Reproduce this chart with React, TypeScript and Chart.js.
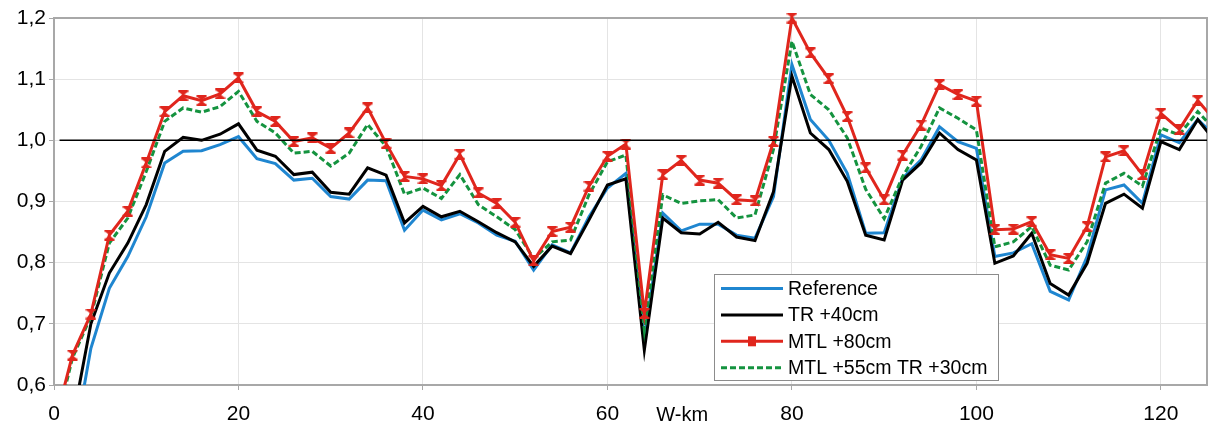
import React, { useEffect, useRef } from 'react';
import { Chart, registerables } from 'chart.js';
Chart.register(...registerables);

const FONT = '"Liberation Sans", Arial, sans-serif';

const km = [0, 2, 4, 6, 8, 10, 12, 14, 16, 18, 20, 22, 24, 26, 28, 30, 32, 34, 36, 38, 40, 42, 44, 46, 48, 50, 52, 54, 56, 58, 60, 62, 64, 66, 68, 70, 72, 74, 76, 78, 80, 82, 84, 86, 88, 90, 92, 94, 96, 98, 100, 102, 104, 106, 108, 110, 112, 114, 116, 118, 120, 122, 124, 126];

const reference = [0.40, 0.49, 0.66, 0.758, 0.81, 0.875, 0.963, 0.982, 0.983, 0.993, 1.006, 0.97, 0.962, 0.935, 0.938, 0.908, 0.904, 0.935, 0.934, 0.853, 0.886, 0.87, 0.88, 0.865, 0.845, 0.835, 0.788, 0.829, 0.816, 0.875, 0.922, 0.946, 0.675, 0.881, 0.852, 0.863, 0.863, 0.845, 0.84, 0.908, 1.124, 1.034, 1.0, 0.946, 0.848, 0.849, 0.938, 0.968, 1.022, 0.998, 0.987, 0.81, 0.816, 0.831, 0.753, 0.739, 0.81, 0.919, 0.927, 0.897, 1.009, 0.996, 1.034, 1.005];

const tr40 = [0.46, 0.54, 0.70, 0.783, 0.832, 0.895, 0.982, 1.005, 1.0, 1.01, 1.027, 0.984, 0.974, 0.944, 0.948, 0.915, 0.912, 0.955, 0.943, 0.865, 0.892, 0.875, 0.884, 0.867, 0.849, 0.834, 0.794, 0.827, 0.815, 0.87, 0.927, 0.937, 0.657, 0.873, 0.849, 0.847, 0.866, 0.842, 0.836, 0.916, 1.105, 1.012, 0.985, 0.933, 0.845, 0.837, 0.935, 0.963, 1.012, 0.985, 0.968, 0.799, 0.811, 0.848, 0.766, 0.747, 0.799, 0.897, 0.912, 0.889, 0.998, 0.985, 1.034, 0.996];

const mtl80 = [0.532, 0.649, 0.716, 0.845, 0.884, 0.963, 1.047, 1.073, 1.065, 1.076, 1.102, 1.047, 1.031, 0.998, 1.004, 0.987, 1.012, 1.053, 0.995, 0.941, 0.937, 0.926, 0.977, 0.914, 0.897, 0.866, 0.803, 0.851, 0.858, 0.925, 0.974, 0.994, 0.717, 0.944, 0.967, 0.935, 0.930, 0.903, 0.901, 0.998, 1.2, 1.143, 1.101, 1.039, 0.955, 0.903, 0.976, 1.025, 1.091, 1.075, 1.064, 0.854, 0.855, 0.867, 0.813, 0.807, 0.859, 0.973, 0.983, 0.944, 1.044, 1.018, 1.065, 1.03];

const mtl55tr30 = [0.52, 0.644, 0.712, 0.832, 0.873, 0.949, 1.031, 1.053, 1.046, 1.055, 1.08, 1.031, 1.012, 0.979, 0.982, 0.958, 0.979, 1.026, 0.99, 0.912, 0.922, 0.905, 0.944, 0.895, 0.875, 0.854, 0.807, 0.834, 0.837, 0.911, 0.965, 0.976, 0.69, 0.911, 0.897, 0.901, 0.903, 0.873, 0.878, 0.985, 1.162, 1.075, 1.05, 1.004, 0.92, 0.872, 0.941, 0.99, 1.053, 1.036, 1.017, 0.826, 0.834, 0.859, 0.796, 0.788, 0.834, 0.930, 0.946, 0.925, 1.02, 1.009, 1.047, 1.015];

const baselineX = [0.6, 125];
const baselineY = [1.0, 1.0];

const seriesNames = ['Reference', 'TR +40cm', 'MTL +80cm', 'MTL +55cm TR +30cm'];
const xAxisName = 'W-km';
const xNamePos = 68.1;

const BLUE = '#1f86d0';
const BLACK = '#000000';
const RED = '#e0261d';
const GREEN = '#14933f';

function pts(xs: number[], ys: number[]) {
  return xs.map((x, i) => ({ x, y: ys[i] }));
}

function makeMarker() {
  const c = document.createElement('canvas');
  c.width = 11;
  c.height = 11;
  const g = c.getContext('2d')!;
  g.fillStyle = RED;
  g.fillRect(0.5, 0, 10, 2.2);
  g.fillRect(0.5, 8.8, 10, 2.2);
  g.beginPath();
  g.moveTo(1.5, 2);
  g.lineTo(9.5, 2);
  g.lineTo(5.5, 5.5);
  g.closePath();
  g.moveTo(1.5, 9);
  g.lineTo(9.5, 9);
  g.lineTo(5.5, 5.5);
  g.closePath();
  g.fill();
  return c;
}

const framePlugin = {
  id: 'frame',
  beforeDatasetsDraw(chart: any) {
    const { ctx, chartArea: a } = chart;
    ctx.save();
    ctx.strokeStyle = '#a8a8a8';
    ctx.lineWidth = 2;
    ctx.beginPath();
    ctx.moveTo(a.left, a.top);
    ctx.lineTo(a.right, a.top);
    ctx.lineTo(a.right, a.bottom);
    ctx.stroke();
    ctx.restore();
  },
  afterDraw(chart: any) {
    const { ctx, chartArea: a, scales } = chart;
    ctx.save();
    ctx.font = `20px ${FONT}`;
    ctx.fillStyle = '#000';
    ctx.textAlign = 'center';
    ctx.textBaseline = 'middle';
    ctx.fillText(xAxisName, scales.x.getPixelForValue(xNamePos), a.bottom + 30);

    // legend
    const left = a.left + 660;
    const top = a.bottom - 111;
    const w = 284;
    const h = 106;
    ctx.fillStyle = '#fff';
    ctx.fillRect(left, top, w, h);
    ctx.strokeStyle = '#8c8c8c';
    ctx.lineWidth = 1;
    ctx.strokeRect(left + 0.5, top + 0.5, w, h);
    const colors = [BLUE, BLACK, RED, GREEN];
    ctx.font = `19.5px ${FONT}`;
    ctx.textAlign = 'left';
    for (let i = 0; i < 4; i++) {
      const cy = top + 14.5 + i * 26.4;
      ctx.strokeStyle = colors[i];
      ctx.lineWidth = 3;
      ctx.setLineDash(i === 3 ? [6, 3] : []);
      ctx.beginPath();
      ctx.moveTo(left + 7, cy);
      ctx.lineTo(left + 69, cy);
      ctx.stroke();
      ctx.setLineDash([]);
      if (i === 2) {
        ctx.fillStyle = RED;
        ctx.fillRect(left + 34, cy - 5, 8, 10);
      }
      ctx.fillStyle = '#000';
      ctx.fillText(seriesNames[i], left + 74, cy + 1);
    }
    ctx.restore();
  },
};

export default function App() {
  const ref = useRef<HTMLCanvasElement>(null);
  useEffect(() => {
    document.body.style.margin = '0';
    const marker = makeMarker();
    const chart = new Chart(ref.current!, {
      type: 'line',
      data: {
        datasets: [
          {
            label: 'base',
            data: pts(baselineX, baselineY),
            borderColor: '#000',
            borderWidth: 1.5,
            pointRadius: 0,
          },
          {
            label: seriesNames[2],
            data: pts(km, mtl80),
            borderColor: RED,
            backgroundColor: RED,
            borderWidth: 3,
            pointStyle: marker as any,
            pointRadius: 5,
            clip: { left: 0, top: 8, right: 0, bottom: 0 } as any,
          },
          {
            label: seriesNames[3],
            data: pts(km, mtl55tr30),
            borderColor: GREEN,
            borderWidth: 3,
            borderDash: [6, 3],
            pointRadius: 0,
          },
          {
            label: seriesNames[1],
            data: pts(km, tr40),
            borderColor: BLACK,
            borderWidth: 3,
            pointRadius: 0,
          },
          {
            label: seriesNames[0],
            data: pts(km, reference),
            borderColor: BLUE,
            borderWidth: 3,
            pointRadius: 0,
          },
        ],
      },
      options: {
        animation: false,
        responsive: false,
        devicePixelRatio: 1,
        layout: { padding: { top: 18, right: 3, left: 0, bottom: 0 } },
        plugins: { legend: { display: false }, tooltip: { enabled: false } },
        elements: { line: { tension: 0 } },
        scales: {
          x: {
            type: 'linear',
            min: 0,
            max: 125,
            ticks: {
              stepSize: 20,
              includeBounds: false,
              color: '#000',
              font: { family: FONT, size: 21 },
              padding: 12,
              maxRotation: 0,
            },
            grid: { color: '#e4e4e4', tickLength: 5, tickColor: '#a8a8a8', lineWidth: 1 },
            border: { color: '#a8a8a8', width: 2 },
            afterFit: (s: any) => {
              s.height = 41;
            },
          },
          y: {
            type: 'linear',
            min: 0.6,
            max: 1.2,
            ticks: {
              stepSize: 0.1,
              color: '#000',
              font: { family: FONT, size: 21 },
              padding: 3,
              callback: (v: any) => Number(v).toFixed(1).replace('.', ','),
            },
            grid: { color: '#e4e4e4', tickLength: 5, tickColor: '#a8a8a8', lineWidth: 1 },
            border: { color: '#a8a8a8', width: 2 },
            afterFit: (s: any) => {
              s.width = 54;
            },
          },
        },
      },
      plugins: [framePlugin],
    });
    return () => chart.destroy();
  }, []);
  return (
    <div style={{ width: 1215, height: 426 }}>
      <canvas ref={ref} width={1215} height={426} style={{ display: 'block' }} />
    </div>
  );
}
